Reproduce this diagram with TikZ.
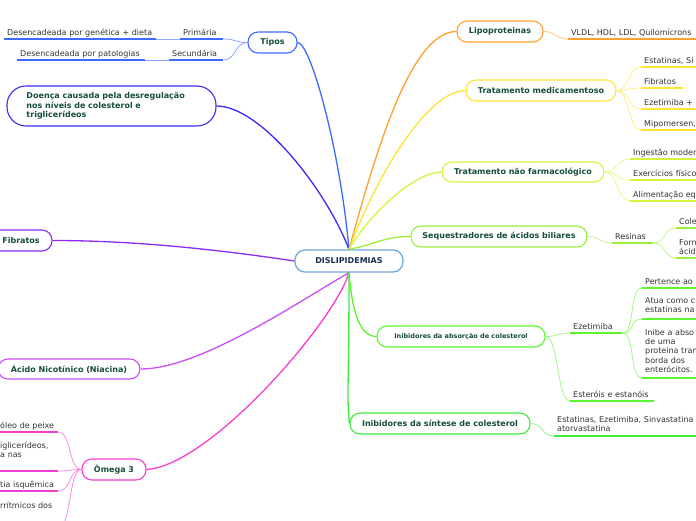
\documentclass[tikz,border=0pt]{standalone}
\usepackage{fontspec}
\setmainfont{DejaVu Sans}
\definecolor{HubBlue}{HTML}{6FA8DC}
\definecolor{HubText}{HTML}{1C2E52}
\definecolor{TopicText}{HTML}{164D3B}
\definecolor{LeafText}{HTML}{333333}
\definecolor{TiposBlue}{HTML}{3D6BFF}
\definecolor{IndigoLine}{HTML}{3B2BF5}
\definecolor{LipoOrange}{HTML}{FFA030}
\definecolor{MedYellow}{HTML}{FFE433}
\definecolor{LimeYellow}{HTML}{D4F53C}
\definecolor{SeqGreen}{HTML}{99F03A}
\definecolor{AbsGreen}{HTML}{5CF52E}
\definecolor{SinGreen}{HTML}{3DEB3D}
\definecolor{FibPurple}{HTML}{8C2BF5}
\definecolor{NiaViolet}{HTML}{CC4DF5}
\definecolor{OmegaPink}{HTML}{F53DD1}
\tikzset{
  hub/.style={draw=HubBlue, line width=1.3pt, rounded corners=10pt, fill=white, minimum width=108pt, minimum height=22pt, inner sep=3pt, text=HubText, font=\fontsize{8}{9.3}\selectfont\bfseries},
  topic/.style={draw=#1, line width=1.1pt, rounded corners=10pt, fill=white, minimum height=21pt, inner sep=3pt, text=TopicText, font=\fontsize{8}{9.3}\selectfont\bfseries},
  leaf/.style={anchor=south west, align=left, inner xsep=3pt, inner ysep=2pt, text depth=1.5pt, text=LeafText, font=\fontsize{8}{9.3}\selectfont},
  limb/.style={draw=#1, line width=1.3pt},
  twig/.style={draw=#1!60, line width=0.8pt},
  sbend/.style={to path={.. controls +(13,0) and +(-13,0) .. (\tikztotarget)}}
}
\begin{document}
\begin{tikzpicture}[x=1pt, y=-1pt]
\useasboundingbox (0,0) rectangle (696,520);
\clip (0,0) rectangle (696,520);
\node[hub] (dis) at (349,261) {DISLIPIDEMIAS};
\node[topic=TiposBlue, minimum width=49pt] (tipos) at (272.5,42.5) {Tipos};
\node[topic=IndigoLine, minimum width=209pt, minimum height=40pt, rounded corners=19pt, text width=170pt, inner xsep=18pt, align=left] (doenca) at (111.5,106) {Doença causada pela desregulação\\nos níveis de colesterol e\\triglicerídeos};
\node[topic=LipoOrange, minimum width=86pt] (lipo) at (500,31.5) {Lipoproteinas};
\node[topic=MedYellow, minimum width=150pt] (tmed) at (541,90.5) {Tratamento medicamentoso};
\node[topic=LimeYellow, minimum width=162pt, minimum height=20pt] (tnf) at (523,172) {Tratamento não farmacológico};
\node[topic=SeqGreen, minimum width=176pt] (seq) at (499,236.5) {Sequestradores de ácidos biliares};
\node[topic=AbsGreen, minimum width=168pt, font=\fontsize{6.5}{8}\selectfont\bfseries] (iabs) at (461,336.5) {Inibidores da absorção de colesterol};
\node[topic=SinGreen, minimum width=180pt] (isin) at (440,423.5) {Inibidores da síntese de colesterol};
\node[topic=FibPurple, minimum width=62pt] (fib) at (21,240.5) {Fibratos};
\node[topic=NiaViolet, minimum width=142pt, minimum height=20pt] (nia) at (69,369) {Ácido Nicotínico (Niacina)};
\node[topic=OmegaPink, minimum width=64pt] (omega) at (114,469.5) {Ômega 3};

\node[leaf, text width=37pt] (prim) at (180,39) {Primária};
\node[leaf, text width=146pt] (gen) at (4,39) {Desencadeada por genética + dieta};
\node[leaf, text width=48pt] (sec) at (169,60) {Secundária};
\node[leaf, text width=122pt] (pat) at (17,60) {Desencadeada por patologias};
\node[leaf, text width=140pt] (vldl) at (568,39) {VLDL, HDL, LDL, Quilomícrons};
\node[leaf, text width=60pt] (med1) at (641,67) {Estatinas, Si};
\node[leaf, text width=36pt] (med2) at (641,88) {Fibratos};
\node[leaf, text width=60pt] (med3) at (641,109) {Ezetimiba +};
\node[leaf, text width=60pt] (med4) at (641,130) {Mipomersen,};
\node[leaf, text width=70pt] (nf1) at (630,159) {Ingestão moder};
\node[leaf, text width=70pt] (nf2) at (630,180) {Exercícios físico};
\node[leaf, text width=70pt] (nf3) at (630,201) {Alimentação eq};
\node[leaf, text width=35pt] (res) at (612,243) {Resinas};
\node[leaf, text width=30pt] (res1) at (676,228) {Cole};
\node[leaf, text width=30pt, text depth=10.8pt] (res2) at (676,258) {Form\\ácid};
\node[leaf, text width=46pt] (eze) at (570,333) {Ezetimiba};
\node[leaf, text width=78pt] (est) at (570,401) {Esteróis e estanóis};
\node[leaf, text width=55pt] (eze1) at (642,288) {Pertence ao};
\node[leaf, text width=55pt, text depth=13.8pt] (eze2) at (642,319) {Atua como c\\estatinas na};
\node[leaf, text width=55pt, text depth=40.7pt] (eze3) at (642,378) {Inibe a abso\\de uma\\proteína tran\\borda dos\\enterócitos.};
\node[leaf, text width=150pt, text depth=11.8pt] (sin1) at (554,436) {Estatinas, Ezetimiba, Sinvastatina\\atorvastatina};
\node[leaf, text width=55pt] (om1) at (-3,432) {óleo de peixe};
\node[leaf, text width=55pt, text depth=20.8pt] (om2) at (-3,471) {iglicerídeos,\\a nas};
\node[leaf, text width=55pt] (om3) at (-3,491) {tia isquêmica};
\node[leaf, text width=55pt, text depth=17.5pt] (om4) at (-3,528) {rrítmicos dos};

\draw[limb=TiposBlue] (dis.north) .. controls +(-9,-100) and +(13,0) .. (tipos.east);
\draw[limb=IndigoLine] (dis.north) .. controls +(-23,-60) and +(44,0) .. (doenca.east);
\draw[limb=LipoOrange] (dis.north) .. controls +(25,-90) and +(-47,0) .. (lipo.west);
\draw[limb=MedYellow] (dis.north) .. controls +(30,-80) and +(-36,0) .. (tmed.west);
\draw[limb=LimeYellow] (dis.north) .. controls +(20,-35) and +(-27,0) .. (tnf.west);
\draw[limb=SeqGreen] (dis.north) .. controls +(26,-5) and +(-26,0) .. (seq.west);
\draw[limb=FibPurple] (dis.west) .. controls +(-80,-12) and +(80,0) .. (fib.east);
\draw[limb=NiaViolet] (dis.south) .. controls +(-49,28) and +(60,0) .. (nia.east);
\draw[limb=OmegaPink] (dis.south) .. controls +(-14,48) and +(64,-4) .. (omega.east);
\draw[limb=AbsGreen] (dis.south) .. controls +(3,38) and +(-17,0) .. (iabs.west);
\draw[limb=SinGreen] (dis.south) .. controls +(0,120) and +(-3,-30) .. (isin.west);

\draw[twig=TiposBlue] (prim.south east) to[sbend] (tipos.west);
\draw[twig=TiposBlue] (sec.south east) to[sbend] (tipos.west);
\draw[twig=TiposBlue] (gen.south east) -- (prim.south west);
\draw[twig=TiposBlue] (pat.south east) -- (sec.south west);
\draw[twig=LipoOrange] (lipo.east) to[sbend] (vldl.south west);
\foreach \n in {med1,med2,med3,med4}
  \draw[twig=MedYellow] (tmed.east) to[sbend] (\n.south west);
\foreach \n in {nf1,nf2,nf3}
  \draw[twig=LimeYellow] (tnf.east) to[sbend] (\n.south west);
\draw[twig=SeqGreen] (seq.east) to[sbend] (res.south west);
\foreach \n in {res1,res2}
  \draw[twig=SeqGreen] (res.south east) to[sbend] (\n.south west);
\foreach \n in {eze,est}
  \draw[twig=AbsGreen] (iabs.east) to[sbend] (\n.south west);
\foreach \n in {eze1,eze2,eze3}
  \draw[twig=AbsGreen] (eze.south east) to[sbend] (\n.south west);
\draw[twig=SinGreen] (isin.east) to[sbend] (sin1.south west);
\foreach \n in {om1,om2,om3,om4}
  \draw[twig=OmegaPink] (\n.south east) to[sbend] (omega.west);

\foreach \n/\c in {prim/TiposBlue, gen/TiposBlue, sec/TiposBlue, pat/TiposBlue, vldl/LipoOrange,
    med1/MedYellow, med2/MedYellow, med3/MedYellow, med4/MedYellow,
    nf1/LimeYellow, nf2/LimeYellow, nf3/LimeYellow, res/SeqGreen, res1/SeqGreen, res2/SeqGreen,
    eze/AbsGreen, est/AbsGreen, eze1/AbsGreen, eze2/AbsGreen, eze3/AbsGreen, sin1/SinGreen,
    om1/OmegaPink, om2/OmegaPink, om3/OmegaPink, om4/OmegaPink}
  \draw[draw=\c, line width=1.6pt] (\n.south west) -- (\n.south east);
\end{tikzpicture}
\end{document}
